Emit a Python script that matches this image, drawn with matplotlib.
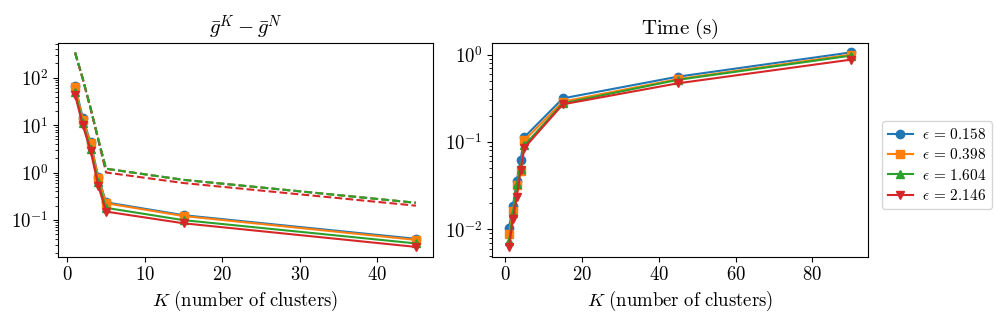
import matplotlib
matplotlib.use("Agg")
import matplotlib.pyplot as plt
import numpy as np
from matplotlib.ticker import FuncFormatter

plt.rcParams['mathtext.fontset'] = 'cm'
plt.rcParams['font.family'] = ['DejaVu Serif']

eps_labels = [r"$\epsilon\,=\,0.158$", r"$\epsilon\,=\,0.398$", r"$\epsilon\,=\,1.604$", r"$\epsilon\,=\,2.146$"]
colors = ['#1f77b4', '#ff7f0e', '#2ca02c', '#d62728']
markers = ['o', 's', '^', 'v']

# Left panel: gap g^K - g^N
K_gap = [1, 2, 3, 4, 5, 15, 45]
gap_solid = [
    [68, 14, 4.3, 0.8, 0.235, 0.126, 0.040],
    [62, 13, 4.1, 0.76, 0.225, 0.121, 0.038],
    [50, 11, 3.2, 0.62, 0.18, 0.099, 0.032],
    [43, 9.8, 2.9, 0.52, 0.15, 0.085, 0.027],
]
gap_dashed = [
    [340, 95, 23, 5.0, 1.2, 0.70, 0.23],
    [340, 95, 23, 5.0, 1.2, 0.70, 0.23],
    [340, 95, 23, 5.0, 1.2, 0.70, 0.23],
    [330, 92, 22, 4.8, 1.0, 0.60, 0.20],
]

# Right panel: time
K_time = [1, 2, 3, 4, 5, 15, 45, 90]
time_vals = [
    [0.0105, 0.0187, 0.036, 0.063, 0.114, 0.316, 0.56, 1.06],
    [0.0088, 0.0163, 0.032, 0.046, 0.105, 0.29, 0.525, 1.00],
    [0.0074, 0.0156, 0.033, 0.049, 0.092, 0.277, 0.515, 0.973],
    [0.0063, 0.0132, 0.0233, 0.048, 0.086, 0.27, 0.47, 0.876],
]

fig = plt.figure(figsize=(9.97, 3.2), dpi=100)
ax1 = fig.add_axes([0.0582, 0.198, 0.3761, 0.6686])
ax2 = fig.add_axes([0.4935, 0.198, 0.3771, 0.6686])

for i in range(4):
    ax1.plot(K_gap, gap_solid[i], color=colors[i], marker=markers[i], lw=1.5, ms=6)
for i in [0, 1, 3, 2]:
    ax1.plot(K_gap, gap_dashed[i], color=colors[i], ls='--', lw=1.5)
for i in range(4):
    ax2.plot(K_time, time_vals[i], color=colors[i], marker=markers[i], lw=1.5, ms=6, label=eps_labels[i])

xfmt = FuncFormatter(lambda v, p: f"${v:g}$")
def logfmt(v, p):
    e = np.log10(v)
    if abs(e - round(e)) < 1e-6:
        return f"$10^{{{int(round(e))}}}$"
    return ""
for ax in (ax1, ax2):
    ax.set_yscale('log')
    ax.xaxis.set_major_formatter(xfmt)
    ax.yaxis.set_major_formatter(FuncFormatter(logfmt))
    ax.yaxis.set_minor_formatter(FuncFormatter(lambda v, p: ""))
    ax.tick_params(labelsize=13.5)
    ax.set_xlabel(r"$K\ \mathrm{(number\ of\ clusters)}$", fontsize=13.5, labelpad=3)

ax1.set_title(r"$\bar{g}^K - \bar{g}^N$", fontsize=15)
ax2.set_title(r"$\mathrm{Time\ (s)}$", fontsize=15)

handles, labels = ax2.get_legend_handles_labels()
fig.legend(handles, labels, loc='center left', bbox_to_anchor=(882/997, 1 - 165/320),
           borderaxespad=0, fontsize=11, labelspacing=0.35, handlelength=1.6,
           handletextpad=0.6)

fig.savefig("out.png", dpi=100)
